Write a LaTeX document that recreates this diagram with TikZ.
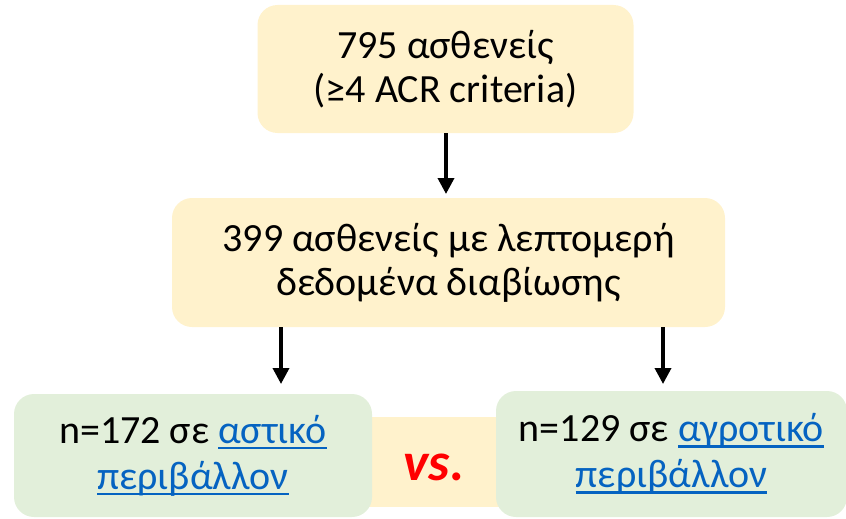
\documentclass[tikz,border=0pt]{standalone}
\usepackage{fontspec}
\setmainfont{Carlito}
\usetikzlibrary{arrows.meta}
\definecolor{boxyellow}{HTML}{FFF2CC}
\definecolor{boxgreen}{HTML}{E2EFDA}
\definecolor{linkblue}{HTML}{0563C1}
\definecolor{vsred}{HTML}{FF0000}
\newcommand\lnkul[1]{{\color{linkblue}\setbox0\hbox{#1}\rlap{\rule[-6pt]{\wd0}{2.6pt}}\box0}}
\tikzset{
  basebox/.style={rounded corners=20pt, align=center, inner sep=0pt,
    font=\fontsize{40}{44}\selectfont},
  ybox/.style={basebox, fill=boxyellow},
  gbox/.style={basebox, fill=boxgreen, font=\fontsize{40}{46}\selectfont},
  arr/.style={line width=3.6pt, -{Triangle[width=16pt,length=16pt]}}
}
\begin{document}
\begin{tikzpicture}[x=1pt,y=-1pt]
\useasboundingbox (0,0) rectangle (846,519);
% yellow band behind the vs.
\node[fill=boxyellow, minimum width=150pt, minimum height=90pt, inner sep=0pt] (vsbox) at (435,462) {};
\node[ybox, minimum width=376pt, minimum height=128pt] (top) at (445.5,69)
  {795 ασθενείς\\(≥4 ACR criteria)};
\node[ybox, minimum width=553pt, minimum height=129pt] (mid) at (448.5,262.5)
  {399 ασθενείς με λεπτομερή\\δεδομένα διαβίωσης};
\node[gbox, minimum width=358pt, minimum height=123pt] (left) at (193,455.5)
  {n=172 σε \lnkul{αστικό}\\\lnkul{περιβάλλον}};
\node[gbox, minimum width=351pt, minimum height=126pt] (right) at (671.5,454)
  {n=129 σε \lnkul{αγροτικό}\\\lnkul{περιβάλλον}};
\node[text=vsred, font=\fontsize{54}{60}\selectfont\bfseries\itshape, inner sep=0pt] (vs) at (434,467) {vs.};
% arrows
\coordinate (ta) at (446,194);
\coordinate (la) at (281,384);
\coordinate (ra) at (663,384);
\draw[arr] (top.south -| ta) -- (ta);
\draw[arr] (mid.south -| la) -- (la);
\draw[arr] (mid.south -| ra) -- (ra);
\end{tikzpicture}
\end{document}
